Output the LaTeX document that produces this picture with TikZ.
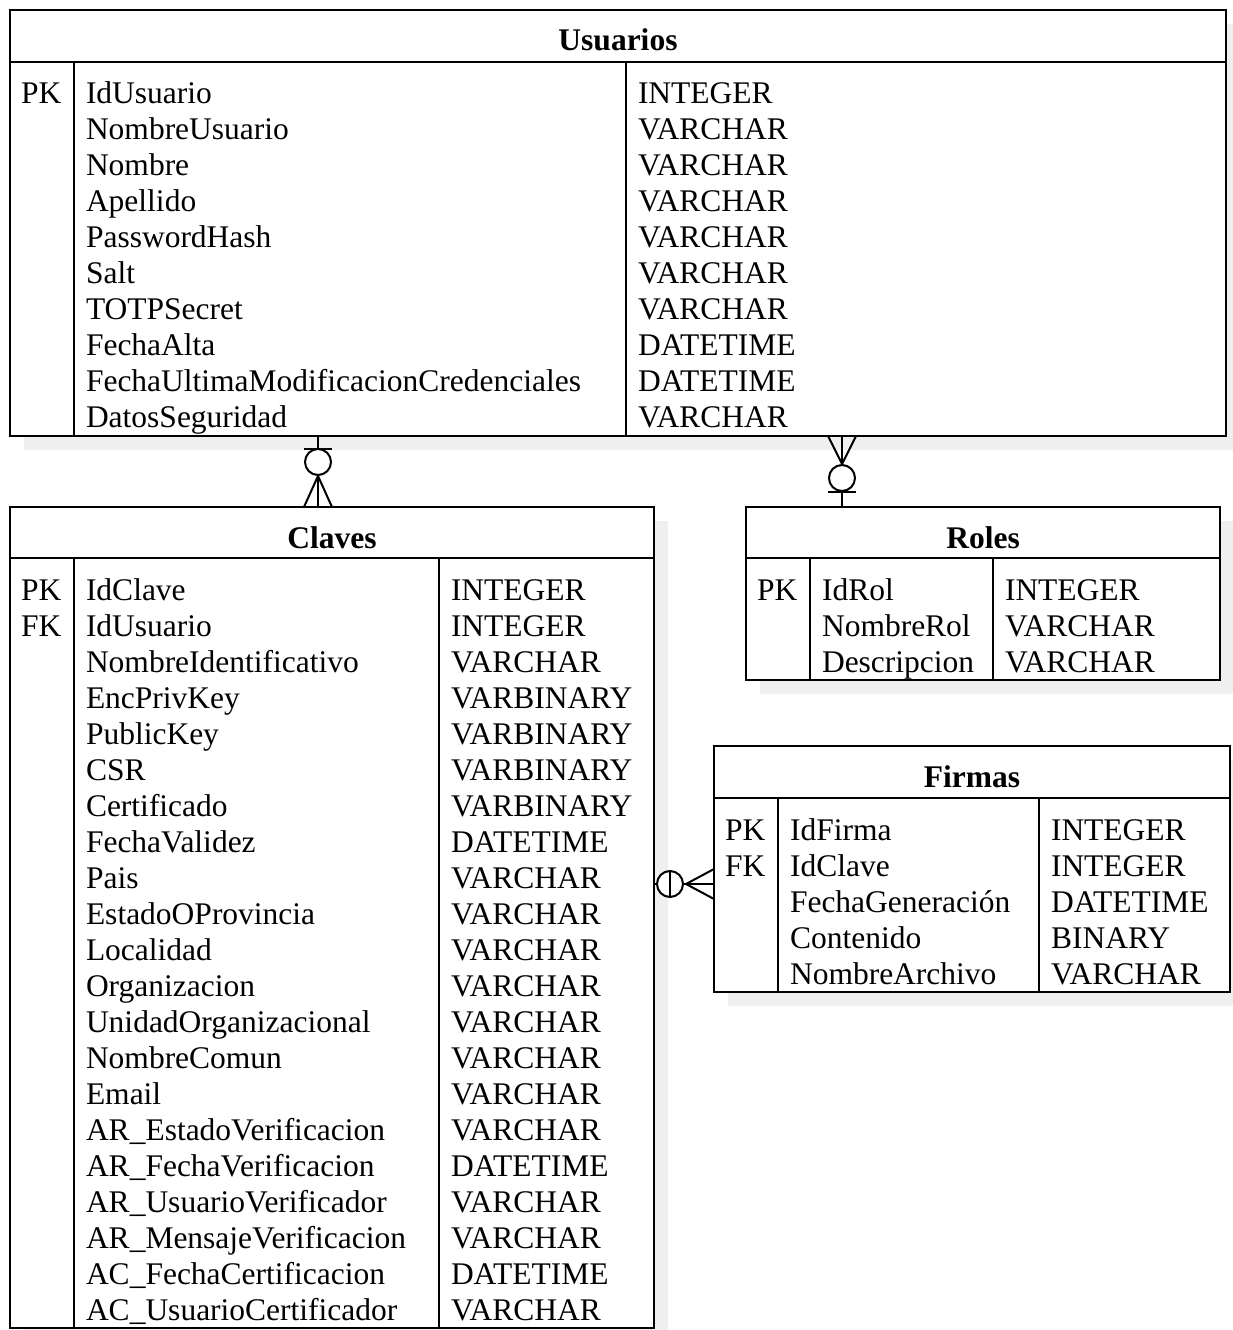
\documentclass[tikz,border=0pt]{standalone}
\usepackage{fontspec}
\setmainfont{Liberation Serif}
\begin{document}
\begin{tikzpicture}[x=1pt,y=-1pt,
  line width=2pt,
  tbl/.style={draw=black,fill=white,rectangle,inner sep=0pt,outer sep=0pt},
  shadow/.style={fill=shadowgray,draw=none},
  cell/.style={anchor=base west,inner sep=0pt,font=\fontsize{31.5}{36}\selectfont},
  ttl/.style={anchor=base,inner sep=0pt,font=\fontsize{31.5}{36}\selectfont\bfseries},
  rel/.style={line width=2pt,draw=black},
  ring/.style={draw=black,fill=white,line width=2pt}]
\definecolor{shadowgray}{HTML}{EFEFEF}
\useasboundingbox (0,0) rectangle (1233,1330);

% drop shadows
\fill[shadow] (24,24) rectangle (1240,450);
\fill[shadow] (24,521) rectangle (668,1342);
\fill[shadow] (760,521) rectangle (1234,694);
\fill[shadow] (728,760) rectangle (1244,1006);

% ---------- Usuarios ----------
\node[tbl,minimum width=1216,minimum height=426] (usuarios) at (618,223) {};
\draw (10,62) -- (1226,62);
\draw (74,62) -- (74,436);
\draw (626,62) -- (626,436);
\node[ttl] (usr-t) at (618,51) {Usuarios};
\node[cell] (usr-k1) at (20,103) {PK};
\foreach \t [count=\i] in {IdUsuario,NombreUsuario,Nombre,Apellido,PasswordHash,Salt,TOTPSecret,FechaAlta,FechaUltimaModificacionCredenciales,DatosSeguridad}
  \node[cell] (usr-n\i) at (85,{103+36*(\i-1)}) {\t};
\foreach \t [count=\i] in {INTEGER,VARCHAR,VARCHAR,VARCHAR,VARCHAR,VARCHAR,VARCHAR,DATETIME,DATETIME,VARCHAR}
  \node[cell] (usr-y\i) at (637,{103+36*(\i-1)}) {\t};

% ---------- Claves ----------
\node[tbl,minimum width=644,minimum height=821] (claves) at (332,917.5) {};
\draw (10,558) -- (654,558);
\draw (74,558) -- (74,1328);
\draw (439,558) -- (439,1328);
\node[ttl] (cla-t) at (332,548) {Claves};
\node[cell] (cla-k1) at (20,600) {PK};
\node[cell] (cla-k2) at (20,636) {FK};
\foreach \t [count=\i] in {IdClave,IdUsuario,NombreIdentificativo,EncPrivKey,PublicKey,CSR,Certificado,FechaValidez,Pais,EstadoOProvincia,Localidad,Organizacion,UnidadOrganizacional,NombreComun,Email,AR\_EstadoVerificacion,AR\_FechaVerificacion,AR\_UsuarioVerificador,AR\_MensajeVerificacion,AC\_FechaCertificacion,AC\_UsuarioCertificador}
  \node[cell] (cla-n\i) at (85,{600+36*(\i-1)}) {\t};
\foreach \t [count=\i] in {INTEGER,INTEGER,VARCHAR,VARBINARY,VARBINARY,VARBINARY,VARBINARY,DATETIME,VARCHAR,VARCHAR,VARCHAR,VARCHAR,VARCHAR,VARCHAR,VARCHAR,VARCHAR,DATETIME,VARCHAR,VARCHAR,DATETIME,VARCHAR}
  \node[cell] (cla-y\i) at (450,{600+36*(\i-1)}) {\t};

% ---------- Roles ----------
\node[tbl,minimum width=474,minimum height=173] (roles) at (983,593.5) {};
\draw (746,558) -- (1220,558);
\draw (810,558) -- (810,680);
\draw (993,558) -- (993,680);
\node[ttl] (rol-t) at (983,548) {Roles};
\node[cell] (rol-k1) at (756,600) {PK};
\foreach \t [count=\i] in {IdRol,NombreRol,Descripcion}
  \node[cell] (rol-n\i) at (821,{600+36*(\i-1)}) {\t};
\foreach \t [count=\i] in {INTEGER,VARCHAR,VARCHAR}
  \node[cell] (rol-y\i) at (1004,{600+36*(\i-1)}) {\t};

% ---------- Firmas ----------
\node[tbl,minimum width=516,minimum height=246] (firmas) at (972,869) {};
\draw (714,798) -- (1230,798);
\draw (778,798) -- (778,992);
\draw (1039,798) -- (1039,992);
\node[ttl] (fir-t) at (972,787) {Firmas};
\node[cell] (fir-k1) at (724,840) {PK};
\node[cell] (fir-k2) at (724,876) {FK};
\foreach \t [count=\i] in {IdFirma,IdClave,FechaGeneración,Contenido,NombreArchivo}
  \node[cell] (fir-n\i) at (789,{840+36*(\i-1)}) {\t};
\foreach \t [count=\i] in {INTEGER,INTEGER,DATETIME,BINARY,VARCHAR}
  \node[cell] (fir-y\i) at (1050,{840+36*(\i-1)}) {\t};

% ---------- relationships ----------
% Usuarios (one) -- Claves (zero or many)
\coordinate (uc) at (318,0);
\draw[rel] (usuarios.south -| uc) -- (claves.north -| uc);
\draw[rel] (304,449) -- (332,449);
\draw[rel] (318,476) -- (304,507) (318,476) -- (332,507);
\node[ring,circle,minimum size=26,inner sep=0pt] (uc-o) at (318,462) {};

% Usuarios (many) -- Roles (zero or one)
\coordinate (ur) at (842,0);
\draw[rel] (usuarios.south -| ur) -- (roles.north -| ur);
\draw[rel] (828,436) -- (842,464) -- (856,436);
\node[ring,circle,minimum size=26,inner sep=0pt] (ur-o) at (842,478) {};
\draw[rel] (828,492) -- (856,492);

% Claves (zero or one) -- Firmas (many)
\coordinate (cf) at (0,884);
\draw[rel] (claves.east |- cf) -- (firmas.west |- cf);
\node[ring,circle,minimum size=26,inner sep=0pt] (cf-o) at (670,884) {};
\draw[rel] (670,870) -- (670,898);
\draw[rel] (714,869) -- (686,884) -- (714,899);
\end{tikzpicture}
\end{document}
